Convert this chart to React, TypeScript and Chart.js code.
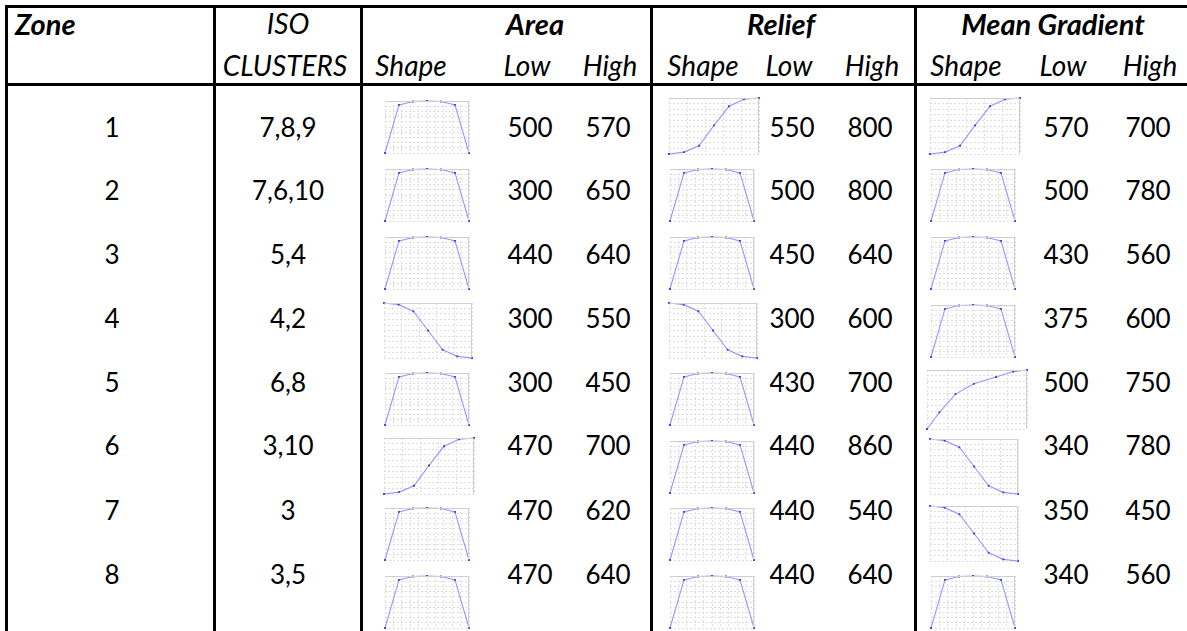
import React, { useEffect, useRef } from "react";
import { Chart, registerables } from "chart.js";

Chart.register(...registerables);

// ---------- table data ----------
const zones = ["1", "2", "3", "4", "5", "6", "7", "8"];
const isoClusters = ["7,8,9", "7,6,10", "5,4", "4,2", "6,8", "3,10", "3", "3,5"];
const groupTitles = ["Area", "Relief", "Mean Gradient"];
const subTitles = ["Shape", "Low", "High"];

const areaShape = ["plateau", "plateau", "plateau", "fall", "plateau", "rise", "plateau", "plateau"];
const areaLow = [500, 300, 440, 300, 300, 470, 470, 470];
const areaHigh = [570, 650, 640, 550, 450, 700, 620, 640];

const reliefShape = ["rise", "plateau", "plateau", "fall", "plateau", "plateau", "plateau", "plateau"];
const reliefLow = [550, 500, 450, 300, 430, 440, 440, 440];
const reliefHigh = [800, 800, 640, 600, 700, 860, 540, 640];

const gradientShape = ["rise", "plateau", "plateau", "plateau", "concave", "fall", "fall", "plateau"];
const gradientLow = [570, 500, 430, 375, 500, 340, 350, 340];
const gradientHigh = [700, 780, 560, 600, 750, 780, 450, 560];

// ---------- shape curves (normalised) ----------
const plateauX = [0, 1, 2, 3, 4, 5, 6];
const plateauY = [0, 0.925, 0.99, 1, 0.99, 0.925, 0];
const riseX = [0, 1, 2, 3, 4, 5, 6];
const riseY = [0, 0.034, 0.148, 0.511, 0.852, 0.977, 1];
const fallX = [0, 1, 2, 3, 4, 5, 6];
const fallY = [1, 0.97, 0.85, 0.5, 0.15, 0.03, 0];
const concaveX = [0, 0.124, 0.285, 0.469, 0.689, 0.862, 1];
const concaveY = [0, 0.283, 0.592, 0.766, 0.88, 0.973, 1];

const shapeX: Record<string, number[]> = { plateau: plateauX, rise: riseX, fall: fallX, concave: concaveX };
const shapeY: Record<string, number[]> = { plateau: plateauY, rise: riseY, fall: fallY, concave: concaveY };

// ---------- layout / style ----------
const shapeBox: Record<string, { w: number; h: number; dy: number; dx: number; xCount: number; yCount: number }> = {
  plateau: { w: 86, h: 54, dy: 0, dx: 0, xCount: 11, yCount: 11 },
  rise: { w: 92, h: 58, dy: -3, dx: -1, xCount: 6, yCount: 11 },
  fall: { w: 90, h: 57, dy: -2, dx: -1, xCount: 6, yCount: 11 },
  concave: { w: 102, h: 61, dy: -3, dx: -4, xCount: 6, yCount: 11 },
};
const FONT = "Lato, 'Open Sans', sans-serif";
const FS_REG = 26;
const FS_IT = 28;
const FS_BI = 29;
const LINE = "rgba(150,150,255,1)";
const POINT = "#3a3ae8";
const GRID = "rgba(222,222,222,1)";
const FRAME = "#cfcfcf";

const rowY = [127, 190, 254, 318, 382, 445, 510, 574];
const sparkTop0 = 100;
const sparkStep = 67.9;
const groupSparkLeft = [384, 669, 930];
const groupCenters = [535, 781, 1053];
const subCenters = [
  [411, 527, 610],
  [703, 789, 872],
  [966, 1063, 1150],
];
const vLines = [6, 214, 361, 651, 915];
const hLines = [6, 84];

const framePlugin = {
  id: "frame",
  afterDraw(chart: any) {
    const { ctx, chartArea } = chart;
    ctx.save();
    ctx.strokeStyle = FRAME;
    ctx.lineWidth = 1;
    ctx.beginPath();
    const l = Math.round(chartArea.left) + 0.5;
    const r = Math.round(chartArea.right) - 0.5;
    const t = Math.round(chartArea.top) + 0.5;
    const b = Math.round(chartArea.bottom) - 0.5;
    ctx.moveTo(l, t);
    ctx.lineTo(r, t);
    ctx.lineTo(r, b);
    ctx.stroke();
    ctx.restore();
  },
};

function Spark({ shape, left, top }: { shape: string; left: number; top: number }) {
  const ref = useRef<HTMLCanvasElement>(null);
  const box = shapeBox[shape];
  const pad = 3;
  useEffect(() => {
    const xs = shapeX[shape];
    const ys = shapeY[shape];
    const axis = (count: number, min: number, max: number) => ({
      type: "linear" as const,
      min,
      max,
      ticks: { display: false, count },
      grid: { color: GRID, drawTicks: false, lineWidth: 1 },
      border: { display: false, dash: [2, 2] },
    });
    const chart = new Chart(ref.current as HTMLCanvasElement, {
      type: "line",
      data: {
        datasets: [
          {
            data: xs.map((x, i) => ({ x, y: ys[i] })),
            borderColor: LINE,
            borderWidth: 1.1,
            pointStyle: "rect",
            pointRadius: 1.3,
            pointBackgroundColor: POINT,
            pointBorderColor: POINT,
            pointBorderWidth: 0,
            tension: 0,
            clip: 6,
          } as any,
        ],
      },
      options: {
        animation: false,
        responsive: false,
        maintainAspectRatio: false,
        events: [],
        layout: { padding: pad },
        plugins: { legend: { display: false }, tooltip: { enabled: false } },
        scales: {
          x: axis(box.xCount, xs[0], xs[xs.length - 1]) as any,
          y: axis(box.yCount, 0, 1) as any,
        },
      },
      plugins: [framePlugin],
    });
    return () => chart.destroy();
  }, [shape]);
  const W = box.w + 2 * pad;
  const H = box.h + 2 * pad;
  return (
    <canvas
      ref={ref}
      width={W}
      height={H}
      style={{ position: "absolute", left: left + box.dx - pad, top: top + box.dy - pad, width: W, height: H }}
    />
  );
}

function Txt({ x, y, text, bold, italic, align }: { x: number; y: number; text: string; bold?: boolean; italic?: boolean; align?: "left" | "center" }) {
  const center = align !== "left";
  const size = bold ? FS_BI : italic ? FS_IT : FS_REG;
  return (
    <div
      style={{
        position: "absolute",
        left: x,
        top: y,
        transform: center ? "translate(-50%, -50%)" : "translate(0, -50%)",
        fontFamily: FONT,
        fontSize: size,
        lineHeight: "1",
        fontWeight: bold ? 700 : 400,
        fontStyle: italic ? "italic" : "normal",
        whiteSpace: "nowrap",
        color: "#000",
      }}
    >
      {text}
    </div>
  );
}

export default function App() {
  const shapes = [areaShape, reliefShape, gradientShape];
  const lows = [areaLow, reliefLow, gradientLow];
  const highs = [areaHigh, reliefHigh, gradientHigh];
  return (
    <div
      style={{
        position: "absolute",
        left: 0,
        top: 0,
        width: 1187,
        height: 631,
        overflow: "hidden",
        background: "#fff",
      }}
    >
      {vLines.map((x, i) => (
        <div key={"v" + i} style={{ position: "absolute", left: x - 1, top: hLines[0] - 1, width: 3, height: 640, background: "#000" }} />
      ))}
      {hLines.map((y, i) => (
        <div key={"h" + i} style={{ position: "absolute", left: vLines[0] - 1, top: y - 1, width: 1200, height: 3, background: "#000" }} />
      ))}

      <Txt x={15} y={23} text="Zone" bold italic align="left" />
      <Txt x={288} y={23} text="ISO" italic />
      <Txt x={285} y={65} text="CLUSTERS" italic />
      {groupTitles.map((t, g) => (
        <Txt key={"g" + g} x={groupCenters[g]} y={23} text={t} bold italic />
      ))}
      {subTitles.map((t, s) =>
        subCenters.map((c, g) => <Txt key={"s" + s + g} x={c[s]} y={65} text={t} italic />)
      )}

      {zones.map((z, r) => (
        <React.Fragment key={"r" + r}>
          <Txt x={112} y={rowY[r]} text={z} />
          <Txt x={288} y={rowY[r]} text={isoClusters[r]} />
          {[0, 1, 2].map((g) => (
            <React.Fragment key={"c" + g}>
              <Txt x={subCenters[g][1] + 3} y={rowY[r]} text={String(lows[g][r])} />
              <Txt x={subCenters[g][2] - 2} y={rowY[r]} text={String(highs[g][r])} />
              <Spark shape={shapes[g][r]} left={groupSparkLeft[g]} top={Math.round(sparkTop0 + r * sparkStep)} />
            </React.Fragment>
          ))}
        </React.Fragment>
      ))}
    </div>
  );
}
